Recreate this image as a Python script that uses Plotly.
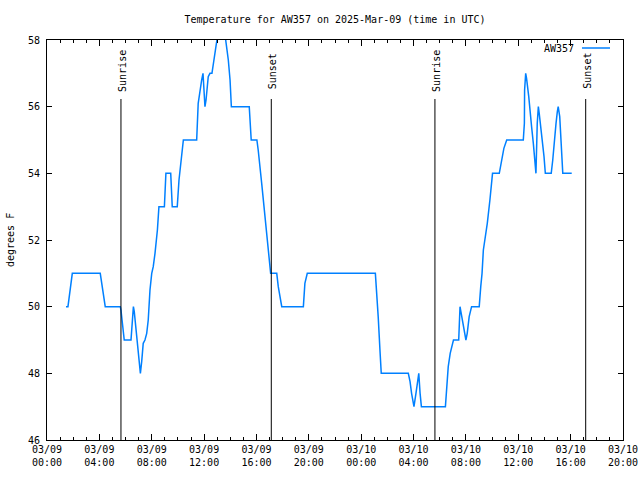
import plotly.graph_objects as go
import pandas as pd

# ---- data ----
times_day1 = ["01:27", "01:36", "01:56", "04:04", "04:27", "05:36", "05:39", "05:54", "06:25", "06:36",
              "06:40", "06:48", "06:58", "07:08", "07:14", "07:21", "07:29", "07:37", "07:44", "07:52",
              "08:00", "08:07", "08:15", "08:26", "08:33", "08:58", "09:05", "09:27", "09:34", "09:57",
              "10:05", "10:25", "11:26", "11:33", "11:49", "11:55", "12:04", "12:09", "12:19", "12:27",
              "12:36", "12:42", "12:58", "13:06", "13:17", "13:29", "13:39", "13:51", "13:59", "14:05",
              "15:27", "15:36", "16:02", "16:08", "16:24", "16:39", "16:54", "17:05", "17:33", "17:40",
              "17:56", "19:35", "19:42", "19:53"]
temps_day1 = [50, 50, 51, 51, 50, 50, 49.9, 49, 49, 50,
              49.85, 49.3, 48.8, 48, 48.35, 48.9, 49, 49.2, 49.6, 50.5,
              51, 51.2, 51.6, 52.3, 53, 53, 54, 54, 53, 53,
              53.8, 55, 55, 56.1, 56.8, 57, 56, 56.2, 56.9, 57,
              57, 57.3, 58, 58.5, 58.8, 58.5, 58, 57.4, 56.8, 56,
              56, 55, 55, 54.7, 53.7, 52.7, 51.8, 51, 51, 50.6,
              50, 50, 50.7, 51]
times_day2 = ["01:05", "01:11", "01:18", "01:26", "01:32", "03:36", "03:44", "03:51", "04:02", "04:11",
              "04:24", "04:30", "04:36", "06:26", "06:32", "06:39", "06:48", "07:03", "07:27", "07:33",
              "07:37", "07:48", "08:00", "08:06", "08:15", "08:26", "09:01", "09:08", "09:14", "09:20",
              "09:38", "09:50", "10:02", "10:33", "10:44", "10:54", "11:07", "12:23", "12:28", "12:29",
              "12:34", "12:38", "12:48", "12:54", "13:01", "13:09", "13:17", "13:21", "13:27", "13:32",
              "13:36", "13:43", "13:50", "13:58", "14:04", "14:31", "14:38", "14:45", "14:53", "14:59",
              "15:03", "15:10", "15:16", "15:22", "15:24", "16:05"]
temps_day2 = [51, 50.2, 49.7, 48.7, 48, 48, 47.75, 47.4, 47, 47.4,
              48, 47.4, 47, 47, 47.7, 48.2, 48.6, 49, 49, 50,
              49.85, 49.4, 49, 49.2, 49.7, 50, 50, 50.6, 51, 51.7,
              52.5, 53.2, 54, 54, 54.4, 54.75, 55, 55, 55.5, 56.5,
              57, 56.85, 56.3, 55.8, 55.4, 54.9, 54.4, 54, 55.5, 56,
              55.8, 55.4, 55, 54.5, 54, 54, 54.4, 55, 55.5, 55.85,
              56, 55.7, 54.8, 54.25, 54, 54]

sun_events = ["Sunrise", "Sunset", "Sunrise", "Sunset"]
sun_times = ["2025-03-09 05:39", "2025-03-09 17:08", "2025-03-10 05:38", "2025-03-10 17:09"]

series_name = "AW357"
title_text = "Temperature for AW357 on 2025-Mar-09 (time in UTC)"
y_label = "degrees F"

x = pd.to_datetime(["2025-03-09 " + t for t in times_day1] + ["2025-03-10 " + t for t in times_day2])
y = temps_day1 + temps_day2

FONT = "DejaVu Sans Mono"
LINE_COLOR = "#0080ff"

fig = go.Figure()
fig.add_trace(go.Scatter(x=x, y=y, mode="lines", name=series_name,
                         line=dict(color=LINE_COLOR, width=1.5), showlegend=False))

# plot area: x 47..623, y 40..440
L, R, T, B = 47, 17, 40, 40
W, H = 640, 480
pw, ph = W - L - R, H - T - B

for name, t in zip(sun_events, sun_times):
    fig.add_shape(type="line", xref="x", yref="paper", x0=t, x1=t, y0=0, y1=(440 - 99) / ph,
                  line=dict(color="black", width=1))
    fig.add_annotation(x=t, xref="x", y=(440 - 71) / ph, yref="paper", text=name,
                       textangle=-90, showarrow=False, xanchor="center", yanchor="middle",
                       xshift=1, font=dict(family=FONT, size=10, color="black"))

# legend (gnuplot style: text then sample line)
fig.add_annotation(x=(576 - L) / pw, xref="paper", y=(440 - 48) / ph, yref="paper",
                   text=series_name, showarrow=False, xanchor="right", yanchor="middle",
                   font=dict(family=FONT, size=10, color="black"))
fig.add_shape(type="line", xref="paper", yref="paper", x0=(582 - L) / pw, x1=(610 - L) / pw,
              y0=(440 - 48) / ph, y1=(440 - 48) / ph, line=dict(color=LINE_COLOR, width=1.5))

# y axis label
fig.add_annotation(x=-(L - 10) / pw, xref="paper", y=0.5, yref="paper", text=y_label,
                   textangle=-90, showarrow=False, xanchor="center", yanchor="middle",
                   font=dict(family=FONT, size=10, color="black"))

fig.update_layout(
    width=W, height=H,
    margin=dict(l=L, r=R, t=T, b=B, autoexpand=False),
    paper_bgcolor="white", plot_bgcolor="white",
    font=dict(family=FONT, size=10, color="black"),
    title=dict(text=title_text, x=0.5, xanchor="center", xref="paper",
               y=1 - 19 / H, yref="container", yanchor="middle",
               font=dict(family=FONT, size=10, color="black")),
    showlegend=False,
)
fig.update_xaxes(
    type="date", range=["2025-03-09 00:00", "2025-03-10 20:00"], automargin=False,
    tick0="2025-03-09 00:00", dtick=4 * 3600 * 1000, tickformat="%m/%d<br>%H:%M",
    ticks="inside", ticklen=6, tickcolor="black", showline=True, linecolor="black", linewidth=1,
    mirror="allticks", showgrid=False, zeroline=False,
    minor=dict(dtick=3600 * 1000, ticks="inside", ticklen=3, tickcolor="black", showgrid=False),
    tickfont=dict(family=FONT, size=10, color="black"),
)
fig.update_yaxes(
    range=[46, 58], dtick=2, ticks="inside", ticklen=5, tickcolor="black", automargin=False,
    showline=True, linecolor="black", linewidth=1, mirror="allticks",
    showgrid=False, zeroline=False, ticklabelstandoff=4,
    tickfont=dict(family=FONT, size=10, color="black"),
)

fig.write_html("out.html")
